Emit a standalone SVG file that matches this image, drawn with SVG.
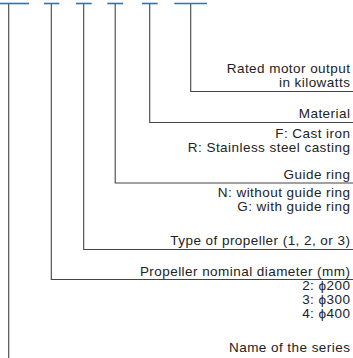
<svg xmlns="http://www.w3.org/2000/svg" width="353" height="358" viewBox="0 0 353 358">
<style>
.t{font-family:"Liberation Sans",Arial,sans-serif;font-size:13.5px;letter-spacing:0.45px;fill:#222;text-anchor:end}
.c{fill:none;stroke:#444;stroke-width:1.1}
.b{stroke:#1f78c1;stroke-width:1.6}
</style>
<rect width="353" height="358" fill="#fff"/>
<g id="connectors">
<path class="c" d="M8.7 3.5V358"/>
<path class="c" d="M51.3 3.5V279.5H353"/>
<path class="c" d="M83.7 3.5V249.5H353"/>
<path class="c" d="M115.2 3.5V183H353"/>
<path class="c" d="M149.7 3.5V122.5H353"/>
<path class="c" d="M190.7 3.5V91.5H353"/>
</g>
<g id="slots">
<line class="b" x1="0" y1="3.5" x2="29" y2="3.5"/>
<line class="b" x1="44" y1="3.5" x2="59.3" y2="3.5"/>
<line class="b" x1="76" y1="3.5" x2="91.7" y2="3.5"/>
<line class="b" x1="107.3" y1="3.5" x2="123" y2="3.5"/>
<line class="b" x1="142" y1="3.5" x2="157.7" y2="3.5"/>
<line class="b" x1="174.3" y1="3.5" x2="207" y2="3.5"/>
</g>
<g id="output">
<text class="t" x="350.4" y="73">Rated motor output</text>
<text class="t" x="350.4" y="87">in kilowatts</text>
</g>
<g id="material">
<text class="t" x="350.4" y="118">Material</text>
<text class="t" x="350.4" y="137.5">F: Cast iron</text>
<text class="t" x="350.4" y="151.5">R: Stainless steel casting</text>
</g>
<g id="guide">
<text class="t" x="350.4" y="178.5">Guide ring</text>
<text class="t" x="350.4" y="196.5">N: without guide ring</text>
<text class="t" x="350.4" y="210.5">G: with guide ring</text>
</g>
<g id="type">
<text class="t" x="350.4" y="245">Type of propeller (1, 2, or 3)</text>
</g>
<g id="diameter">
<text class="t" x="350.4" y="275.5">Propeller nominal diameter (mm)</text>
<text class="t" x="350.4" y="290">2: ϕ200</text>
<text class="t" x="350.4" y="304">3: ϕ300</text>
<text class="t" x="350.4" y="318">4: ϕ400</text>
</g>
<g id="series">
<text class="t" x="350.4" y="352">Name of the series</text>
</g>
</svg>
